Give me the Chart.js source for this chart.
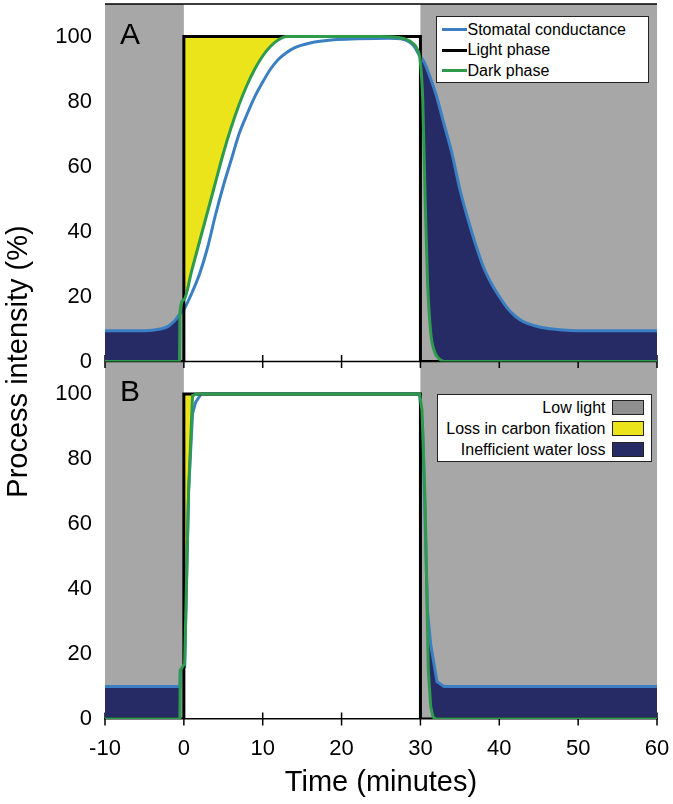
<!DOCTYPE html>
<html lang="en">
<head>
<meta charset="UTF-8">
<title>Process intensity during light and dark phases</title>
<script src="https://cdn.jsdelivr.net/npm/chart.js@4.4.1/dist/chart.umd.min.js"></script>
<style>
  html, body { margin: 0; padding: 0; background: #fff; }
  #wrap { position: relative; width: 673px; height: 804px; font-family: "Liberation Sans", Arial, sans-serif; color: #000; }
  #chart { position: absolute; left: 0; top: 0; }
  .tag { position: absolute; font-size: 30px; line-height: 30px; }
  .legend { position: absolute; box-sizing: border-box; background: #fff; border: 1.5px solid #222; font-size: 16px; }
  .legend .row { display: flex; align-items: center; white-space: nowrap; }
  #legA { left: 436px; top: 16px; width: 213px; height: 67px; padding: 2.3px 0 0 4.5px; }
  #legA .row { height: 20.5px; }
  #legA .line { width: 25px; height: 3px; margin-right: 1px; }
  #legB { left: 437px; top: 394px; width: 215px; height: 68px; padding: 2px 7.5px 0 0; }
  #legB .row { height: 21px; justify-content: flex-end; }
  #legB .swatch { box-sizing: border-box; width: 32px; height: 15px; border: 1.5px solid #222; margin-left: 6px; }
</style>
</head>
<body>
<div id="wrap">
  <canvas id="chart" width="673" height="804"></canvas>
  <div class="tag" style="left:120px; top:19px;">A</div>
  <div class="tag" style="left:120px; top:376px;">B</div>
  <div class="legend" id="legA">
    <div class="row"><span class="line" style="background:#3b7fc3"></span>Stomatal conductance</div>
    <div class="row"><span class="line" style="background:#000"></span>Light phase</div>
    <div class="row"><span class="line" style="background:#2e9a4c"></span>Dark phase</div>
  </div>
  <div class="legend" id="legB">
    <div class="row">Low light<span class="swatch" style="background:#8f8f8f"></span></div>
    <div class="row">Loss in carbon fixation<span class="swatch" style="background:#ece41a"></span></div>
    <div class="row">Inefficient water loss<span class="swatch" style="background:#272b65"></span></div>
  </div>
</div>

<script>
    // time axis (minutes) and intensity ticks
    var xTicks = [-10, 0, 10, 20, 30, 40, 50, 60];
    var yTicks = [0, 20, 40, 60, 80, 100];
    var lowLightSpans = [[-10, 0], [30, 60]];

    // light phase, same in both panels
    var lightTime = [-10, 0, 0, 30, 30, 60];
    var lightLevel = [0, 0, 100, 100, 0, 0];
    var lightPeak = 100;

    // panel A: slow response
    var photoTimeA = [-10, -0.55, -0.5, 0, 1, 2, 3, 4, 5, 6, 7, 8, 9, 10, 11, 12, 13, 15, 20, 25, 27, 28, 29, 29.5, 30, 30.3, 30.6, 30.9, 31.3, 31.8, 32.3, 33, 40, 50, 60];
    var photoA = [0, 0, 15, 19, 28, 37, 46, 55, 64, 72, 79, 85, 90, 94, 97, 99, 100, 100, 100, 100, 99.8, 99.3, 98, 96.5, 92, 80, 50, 25, 9, 3, 1, 0, 0, 0, 0];
    var condTimeA = [-10, -5, -3, -2, -1.4, -1, -0.5, 0, 1, 2, 3, 4, 5, 6, 7, 8, 9, 10, 11, 12, 13, 14, 16, 19, 22, 26, 27.5, 28.5, 29.2, 29.8, 30.5, 31, 32, 33, 34, 35, 36, 37, 38, 39, 40, 41, 42, 43, 44.5, 46, 48, 50, 55, 60];
    var condA = [9.5, 9.5, 10, 10.8, 12, 13, 14.7, 16, 21, 27, 35, 45, 54, 62, 70, 76, 81.5, 86, 90, 93, 95, 96.5, 98, 99, 99.3, 99.5, 99.3, 98.5, 97, 94.5, 92, 89, 82, 73, 64, 53, 44, 36, 29, 24, 20, 16.5, 14, 12.3, 11, 10.2, 9.7, 9.5, 9.5, 9.5];
    var lossWindowA = [0, 14];

    // panel B: fast response
    var photoTimeB = [-10, -0.5, -0.45, 0.1, 0.6, 1.1, 1.6, 29.9, 30.2, 30.6, 31, 31.3, 31.6, 32, 60];
    var photoB = [0, 0, 15, 17, 70, 99.5, 100, 100, 95, 66, 15, 4, 0.6, 0, 0];
    var condTimeB = [-10, -0.5, -0.45, 0.1, 0.6, 1.1, 1.5, 2.2, 29.9, 30.3, 30.6, 30.9, 31.3, 32.1, 33, 60];
    var condB = [10, 10, 15, 16, 70, 94, 97.5, 100, 100, 88, 60, 33, 23, 11.5, 10, 10];
    var lossWindowB = [0, 1.6];

    var colors = {
        gray: '#a7a7a7', navy: '#272b65', yellow: '#ece41a',
        blue: '#3b7fc3', green: '#2e9a4c', black: '#000000'
    };
    var none = 'rgba(0,0,0,0)';
    var fontFamily = '"Liberation Sans", Arial, sans-serif';

    function pts(xs, ys) {
        return xs.map(function(x, i) { return {x: x, y: ys[i]}; });
    }

    function panelSets(axis, pt, p, ct, c, win, base, smooth) {
        var curve = smooth ? {cubicInterpolationMode: 'monotone'} : {tension: 0};
        return [
            Object.assign({data: pts(pt, p), yAxisID: axis, borderColor: colors.green, borderWidth: 3, order: 0, fill: false}, curve),
            {data: pts(lightTime, lightLevel), yAxisID: axis, borderColor: colors.black, borderWidth: 3, tension: 0, order: 1, fill: false},
            Object.assign({data: pts(ct, c), yAxisID: axis, borderColor: colors.blue, borderWidth: 3, order: 2,
                fill: {target: base, above: colors.navy, below: none}}, curve),
            {data: pts(win, [lightPeak, lightPeak]), yAxisID: axis, borderWidth: 0, borderColor: none, tension: 0, order: 3,
                fill: {target: base, above: colors.yellow, below: none}}
        ];
    }

    var datasets = panelSets('yA', photoTimeA, photoA, condTimeA, condA, lossWindowA, 0, true)
        .concat(panelSets('yB', photoTimeB, photoB, condTimeB, condB, lossWindowB, 4, false));

    var panelFrame = {
        id: 'panelFrame',
        beforeDraw: function(chart) {
            var ctx = chart.ctx, a = chart.chartArea, x = chart.scales.x;
            var yA0 = chart.scales.yA.getPixelForValue(0);
            var yB0 = chart.scales.yB.getPixelForValue(0);
            ctx.save();
            ctx.fillStyle = colors.gray;
            lowLightSpans.forEach(function(s) {
                var x0 = x.getPixelForValue(s[0]), x1 = x.getPixelForValue(s[1]);
                ctx.fillRect(x0, a.top, x1 - x0, a.bottom - a.top);
            });
            ctx.strokeStyle = '#000';
            ctx.lineWidth = 1.5;
            ctx.beginPath();
            ctx.moveTo(a.left, a.top); ctx.lineTo(a.right, a.top);
            ctx.moveTo(a.left, yA0); ctx.lineTo(a.right, yA0);
            [yA0, yB0].forEach(function(y0) {
                xTicks.forEach(function(t) {
                    var px = x.getPixelForValue(t);
                    ctx.moveTo(px, y0 - 6.5); ctx.lineTo(px, y0 + 6.5);
                });
            });
            ctx.stroke();
            ctx.restore();
        }
    };

    // labels may hang over the plot edge, no need to reserve room for them
    function noOverhang(s) {
        s.paddingTop = 0; s.paddingBottom = 0; s.paddingLeft = 0; s.paddingRight = 0;
    }

    function panelAxis(weight) {
        return {
            type: 'linear', position: 'left', stack: 'panels', stackWeight: 1, weight: weight,
            min: 0, max: 110,
            grid: {display: false, drawTicks: false},
            border: {display: false},
            ticks: {padding: 13, color: '#000', font: {family: fontFamily, size: 22}},
            afterBuildTicks: function(s) { s.ticks = yTicks.map(function(v) { return {value: v}; }); },
            afterFit: function(s) { s.width = 65; noOverhang(s); }
        };
    }

    new Chart(document.getElementById('chart'), {
        type: 'line',
        data: {datasets: datasets},
        options: {
            responsive: false,
            animation: false,
            layout: {padding: {top: 4, right: 16, left: 0, bottom: 0}},
            elements: {point: {radius: 0}},
            plugins: {
                legend: {display: false},
                tooltip: {enabled: false},
                filler: {drawTime: 'beforeDatasetsDraw'}
            },
            scales: {
                x: {
                    type: 'linear', min: -10, max: 60,
                    grid: {display: false, drawTicks: false},
                    border: {display: true, color: '#000', width: 1.5},
                    ticks: {padding: 17, color: '#000', font: {family: fontFamily, size: 22}},
                    afterBuildTicks: function(s) { s.ticks = xTicks.map(function(v) { return {value: v}; }); },
                    title: {display: true, text: 'Time (minutes)', color: '#000', font: {family: fontFamily, size: 29}, padding: {top: 0, bottom: 4}},
                    afterFit: function(s) { s.height = 85; noOverhang(s); }
                },
                yB: panelAxis(0),
                yA: panelAxis(1),
                yT: {
                    type: 'linear', position: 'left', weight: 2, min: 0, max: 1,
                    grid: {display: false, drawTicks: false},
                    border: {display: false},
                    ticks: {display: false},
                    title: {display: true, text: 'Process intensity (%)', color: '#000', font: {family: fontFamily, size: 29}, padding: {top: 2, bottom: 0}},
                    afterFit: function(s) { s.width = 40; noOverhang(s); }
                }
            }
        },
        plugins: [panelFrame]
    });
</script>
</body>
</html>
